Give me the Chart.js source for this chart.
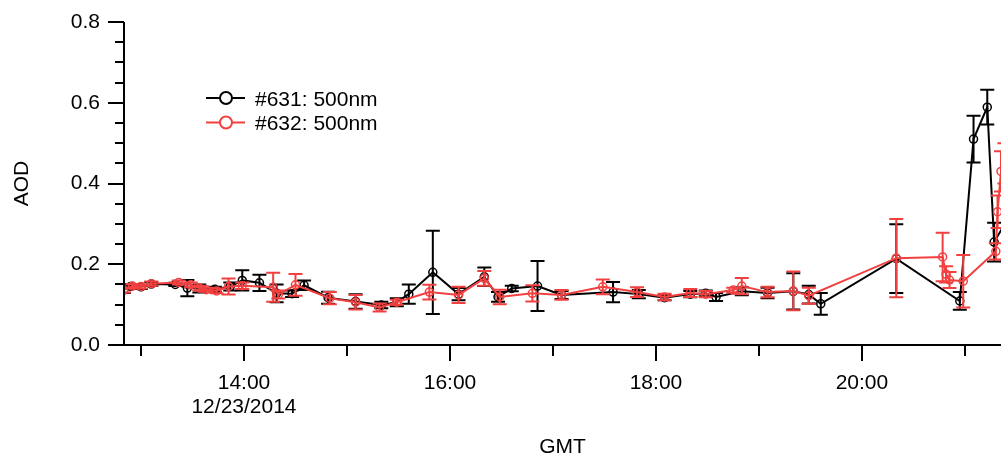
<!DOCTYPE html>
<html>
<head>
<meta charset="utf-8">
<script src="https://cdn.jsdelivr.net/npm/chart.js@4.4.1/dist/chart.umd.min.js"></script>
<style>
html,body{margin:0;padding:0;background:#fff}
</style>
</head>
<body>
<canvas id="aod" width="1001" height="459"></canvas>
<script>
// #631 500nm
const times631 = ['12:50','12:54','13:00','13:06','13:20','13:27','13:34','13:43','13:52','13:59','14:09','14:19','14:28','14:35','14:49','15:05','15:20','15:29','15:36','15:50','16:05','16:20','16:28','16:36','16:51','17:05','17:35','17:50','18:05','18:20','18:29','18:35','18:50','19:05','19:20','19:29','19:36','20:20','20:57','21:05','21:13','21:17','21:26']
const aod631 = [0.137,0.145,0.144,0.151,0.150,0.141,0.140,0.138,0.145,0.160,0.154,0.128,0.127,0.148,0.117,0.108,0.099,0.106,0.126,0.180,0.126,0.169,0.119,0.140,0.146,0.124,0.131,0.126,0.117,0.126,0.128,0.119,0.133,0.129,0.133,0.125,0.102,0.214,0.109,0.510,0.589,0.255,0.320]
const err631 = [0.008,0.006,0.005,0.005,0.004,0.02,0.01,0.006,0.01,0.025,0.02,0.022,0.008,0.012,0.015,0.018,0.008,0.01,0.024,0.103,0.015,0.023,0.012,0.007,0.062,0.01,0.025,0.01,0.006,0.008,0.007,0.01,0.01,0.013,0.045,0.022,0.027,0.085,0.022,0.058,0.043,0.048,0.05]

// #632 500nm
const times632 = ['12:50','12:55','13:00','13:06','13:22','13:29','13:34','13:38','13:44','13:51','13:59','14:17','14:20','14:30','14:50','15:05','15:19','15:29','15:48','16:05','16:20','16:29','16:48','17:05','17:29','17:49','18:05','18:20','18:29','18:45','18:50','19:05','19:20','19:29','20:20','20:47','20:49','20:51','20:59','21:18','21:19','21:21','21:23']
const aod632 = [0.136,0.146,0.145,0.152,0.155,0.149,0.141,0.137,0.134,0.145,0.147,0.143,0.125,0.149,0.116,0.106,0.093,0.106,0.131,0.124,0.165,0.119,0.128,0.124,0.144,0.131,0.119,0.129,0.126,0.136,0.146,0.131,0.134,0.122,0.215,0.218,0.175,0.161,0.158,0.232,0.330,0.430,0.450]
const err632 = [0.006,0.005,0.005,0.005,0.005,0.006,0.006,0.005,0.006,0.02,0.008,0.036,0.01,0.027,0.015,0.018,0.01,0.006,0.018,0.02,0.018,0.018,0.02,0.012,0.018,0.012,0.008,0.01,0.008,0.006,0.02,0.013,0.048,0.02,0.097,0.06,0.02,0.02,0.065,0.02,0.04,0.05,0.05]

// axis ticks
const yTicks = [0, 0.2, 0.4, 0.6, 0.8]
const xTicks = [13, 14, 15, 16, 17, 18, 19, 20, 21]
const dateLabel = '12/23/2014'

const red = 'rgb(242,64,64)'
const fam = "'Liberation Sans', Arial, sans-serif"

const toHours = s => {
  const [h, m] = s.split(':').map(Number)
  return h + m / 60
}
const pts = (t, v) => t.map((s, i) => ({x: toHours(s), y: v[i]}))

// error bars, tick marks, axis lines, titles and legend
const igorLook = {
  id: 'igorLook',
  afterDatasetDraw(chart, args) {
    const ds = chart.data.datasets[args.index]
    const {ctx, chartArea: a, scales: {x, y}} = chart
    ctx.save()
    ctx.beginPath()
    ctx.rect(a.left, a.top, a.right - a.left, a.bottom - a.top)
    ctx.clip()
    ctx.strokeStyle = ds.borderColor
    ctx.lineWidth = 2
    ds.data.forEach((p, i) => {
      const e = ds.errs[i]
      const px = x.getPixelForValue(p.x)
      const hi = y.getPixelForValue(p.y + e)
      const lo = y.getPixelForValue(p.y - e)
      ctx.beginPath()
      ctx.moveTo(px, hi); ctx.lineTo(px, lo)
      ctx.moveTo(px - 7, hi); ctx.lineTo(px + 7, hi)
      ctx.moveTo(px - 7, lo); ctx.lineTo(px + 7, lo)
      ctx.stroke()
    })
    ctx.restore()
  },
  afterDraw(chart) {
    const {ctx, chartArea: a, scales: {x, y}} = chart
    ctx.save()
    ctx.strokeStyle = '#000'
    ctx.lineWidth = 2
    ctx.beginPath()
    // axis lines
    ctx.moveTo(a.left, a.top); ctx.lineTo(a.left, a.bottom)
    ctx.moveTo(a.left - 16, a.bottom); ctx.lineTo(a.right, a.bottom)
    // y ticks, minor every 0.05
    for (let k = 0; k <= 16; k++) {
      const py = Math.round(y.getPixelForValue(k * 0.05))
      const len = k % 4 === 0 ? 16 : 9
      ctx.moveTo(a.left - len, py); ctx.lineTo(a.left, py)
    }
    // x ticks, long on even hours
    xTicks.forEach(h => {
      const px = Math.round(x.getPixelForValue(h))
      const len = h % 2 === 0 ? 16 : 11
      ctx.moveTo(px, a.bottom); ctx.lineTo(px, a.bottom + len)
    })
    ctx.stroke()

    ctx.fillStyle = '#000'
    ctx.font = `21px ${fam}`
    ctx.textAlign = 'center'
    ctx.fillText('GMT', (a.left + a.right) / 2, 453)
    ctx.save()
    ctx.translate(22, (a.top + a.bottom) / 2)
    ctx.rotate(-Math.PI / 2)
    ctx.textBaseline = 'middle'
    ctx.fillText('AOD', 0, 0)
    ctx.restore()

    // legend
    ctx.textAlign = 'left'
    chart.data.datasets.forEach((ds, i) => {
      const ly = 98 + i * 24.5
      ctx.strokeStyle = ds.borderColor
      ctx.lineWidth = 2
      ctx.beginPath()
      ctx.moveTo(206, ly); ctx.lineTo(245, ly)
      ctx.stroke()
      ctx.beginPath()
      ctx.arc(226, ly, 6, 0, Math.PI * 2)
      ctx.fillStyle = '#fff'
      ctx.fill()
      ctx.stroke()
      ctx.fillStyle = '#000'
      ctx.fillText(ds.label, 255, ly + 7.5)
    })
    ctx.restore()
  }
}

new Chart(document.getElementById('aod'), {
  type: 'line',
  data: {
    datasets: [
      {
        label: '#631: 500nm',
        data: pts(times631, aod631),
        errs: err631,
        borderColor: '#000',
        borderWidth: 2,
        pointRadius: 4,
        pointBorderWidth: 1.5,
        pointBackgroundColor: 'rgba(0,0,0,0)',
        pointBorderColor: '#000',
        tension: 0,
        order: 1
      },
      {
        label: '#632: 500nm',
        data: pts(times632, aod632),
        errs: err632,
        borderColor: red,
        borderWidth: 2,
        pointRadius: 4,
        pointBorderWidth: 1.5,
        pointBackgroundColor: 'rgba(0,0,0,0)',
        pointBorderColor: red,
        tension: 0,
        order: 0
      }
    ]
  },
  options: {
    responsive: false,
    animation: false,
    layout: {autoPadding: false, padding: {top: 22, left: 0, right: 0, bottom: 0}},
    plugins: {legend: {display: false}, tooltip: {enabled: false}},
    scales: {
      x: {
        type: 'linear',
        min: 12.835,
        max: 21.35,
        afterBuildTicks: s => { s.ticks = xTicks.map(v => ({value: v})) },
        afterFit: s => {
          s.height = 114
          s.paddingLeft = 0
          s.paddingRight = 0
        },
        grid: {display: false, drawTicks: false},
        border: {display: false},
        ticks: {
          autoSkip: false,
          maxRotation: 0,
          padding: 26,
          color: '#000',
          font: {family: fam, size: 21, lineHeight: 1.143},
          callback: v => v === 14 ? ['14:00', dateLabel] : (v % 2 === 0 ? v + ':00' : '')
        }
      },
      y: {
        min: 0,
        max: 0.8,
        afterBuildTicks: s => { s.ticks = yTicks.map(v => ({value: v})) },
        afterFit: s => {
          s.width = 124
          s.paddingTop = 0
          s.paddingBottom = 0
        },
        grid: {display: false, drawTicks: false},
        border: {display: false},
        ticks: {
          padding: 24,
          color: '#000',
          font: {family: fam, size: 21},
          callback: v => v.toFixed(1)
        }
      }
    }
  },
  plugins: [igorLook]
})
</script>
</body>
</html>
